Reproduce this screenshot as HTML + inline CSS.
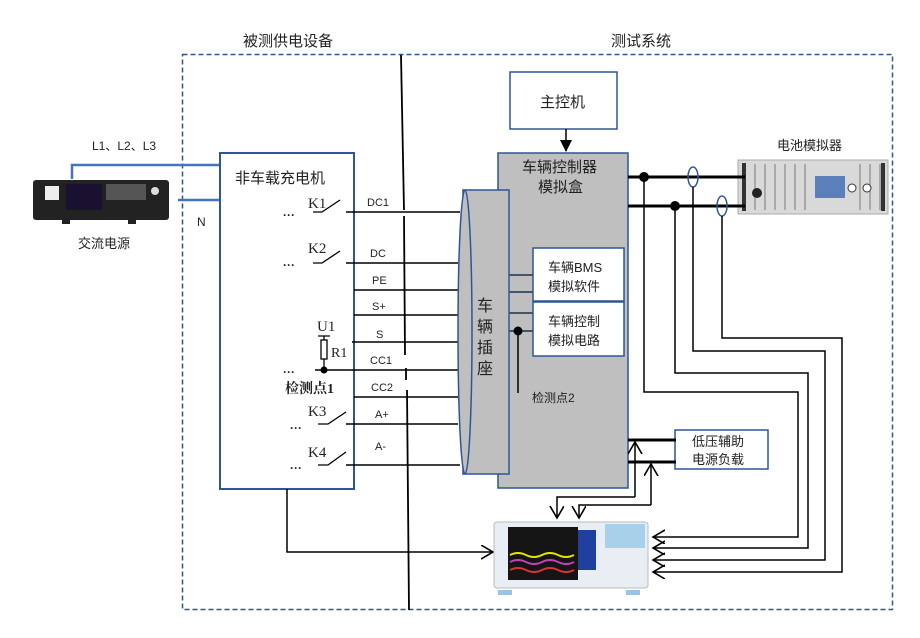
<!DOCTYPE html>
<html><head><meta charset="utf-8"><style>
html,body{margin:0;padding:0;background:#fff;}
svg{display:block;}
text{font-family:"Liberation Sans","Noto Sans CJK SC",sans-serif;fill:#222;}
.s text{font-family:"Liberation Serif","Noto Serif CJK SC",serif;}
</style></head><body>
<svg width="920" height="638" viewBox="0 0 920 638" xmlns="http://www.w3.org/2000/svg">
<defs>
<marker id="ah" markerWidth="14" markerHeight="16" refX="12" refY="7" orient="auto" markerUnits="userSpaceOnUse"><path d="M0,0 L12,7 L0,14" fill="none" stroke="#000" stroke-width="1.6"/></marker>
<marker id="af" markerWidth="12" markerHeight="12" refX="11" refY="6" orient="auto" markerUnits="userSpaceOnUse"><path d="M0,0 L12,6 L0,12Z" fill="#000"/></marker>
</defs>
<rect x="182.5" y="54.5" width="710" height="555" fill="none" stroke="#2f5597" stroke-width="1.5" stroke-dasharray="5,3"/>
<text x="243" y="46" font-size="15">被测供电设备</text>
<text x="611" y="46" font-size="15">测试系统</text>
<path d="M401,55 L404,210 M404,216 L405,355 M406,368 L406,380 M407,390 L409,610" stroke="#000" stroke-width="1.8" fill="none"/>

<rect x="33" y="180" width="136" height="40" rx="3" fill="#222"/>
<rect x="45" y="186" width="14" height="14" fill="#eee"/>
<rect x="66" y="184" width="36" height="26" fill="#1a1030"/>
<rect x="106" y="184" width="40" height="16" fill="#555"/>
<circle cx="155" cy="191" r="4" fill="#ddd"/>
<rect x="62" y="220" width="8" height="4" fill="#222"/><rect x="128" y="220" width="8" height="4" fill="#222"/>
<text x="78" y="248" font-size="13">交流电源</text>
<text x="92" y="150" font-size="12">L1、L2、L3</text>
<text x="197" y="226" font-size="12">N</text>
<path d="M72,179 V165 H224 M178,200 H224" stroke="#4472c4" stroke-width="2.5" fill="none"/>

<rect x="220" y="153" width="134" height="336" fill="#fff" stroke="#2f5597" stroke-width="2"/>
<text x="235" y="183" font-size="15">非车载充电机</text>

<g stroke="#000" stroke-width="1.5" fill="none">
<path d="M346,212 H460"/><path d="M346,263 H458"/><path d="M354,290 H458"/><path d="M354,315 H458"/>
<path d="M352,342 H458"/><path d="M315,370 H458"/><path d="M354,397 H458"/><path d="M346,424 H458"/><path d="M346,465 H460"/>
</g>
<g font-size="11">
<text x="367" y="206">DC1</text><text x="370" y="257">DC</text><text x="372" y="284">PE</text>
<text x="372" y="310">S+</text><text x="376" y="338">S</text><text x="370" y="364">CC1</text>
<text x="371" y="391">CC2</text><text x="375" y="418">A+</text><text x="375" y="450">A-</text>
</g>
<g stroke="#000" stroke-width="1.3" fill="none">
<path d="M313,212 H322 L340,200"/><path d="M313,263 H322 L340,251"/>
<path d="M318,424 H328 L346,412"/><path d="M318,465 H328 L346,452"/>
<path d="M318,336 H330 M324,336 V340 M324,359 V370"/>
<rect x="321" y="340" width="6" height="19"/>
</g>
<circle cx="324" cy="370" r="3.5" fill="#000"/>
<g class="s" font-size="15">
<text x="308" y="208">K1</text><text x="308" y="253">K2</text><text x="308" y="416">K3</text><text x="308" y="457">K4</text>
<text x="317" y="331">U1</text><text x="331" y="357" font-size="14">R1</text>
<text x="285" y="393" font-weight="bold" font-size="14">检测点1</text>
</g>
<g font-size="12" font-weight="bold"><text x="283" y="219">···</text><text x="283" y="269">···</text><text x="283" y="376">···</text><text x="290" y="432">···</text><text x="290" y="472">···</text></g>

<rect x="510" y="72" width="107" height="57" fill="#fff" stroke="#2f5597" stroke-width="1.5"/>
<text x="540" y="107" font-size="15">主控机</text>
<path d="M566,129 V151" stroke="#000" stroke-width="1.5" marker-end="url(#af)"/>

<rect x="498" y="153" width="130" height="335" fill="#bfbfbf" stroke="#2f5597" stroke-width="1.5"/>
<text x="522" y="172" font-size="15">车辆控制器</text>
<text x="538" y="192" font-size="15">模拟盒</text>
<rect x="463" y="190" width="46" height="284" fill="#bfbfbf" stroke="#2f5597" stroke-width="1.5"/>
<ellipse cx="465" cy="332" rx="7" ry="142" fill="#bfbfbf" stroke="#2f5597" stroke-width="1.5"/>
<text x="477" y="311" font-size="16">车</text><text x="477" y="332" font-size="16">辆</text>
<text x="477" y="353" font-size="16">插</text><text x="477" y="374" font-size="16">座</text>

<rect x="533" y="248" width="91" height="53" fill="#fff" stroke="#2f5597" stroke-width="1.5"/>
<text x="548" y="272" font-size="13">车辆BMS</text><text x="548" y="291" font-size="13">模拟软件</text>
<rect x="533" y="302" width="91" height="54" fill="#fff" stroke="#2f5597" stroke-width="1.5"/>
<text x="548" y="326" font-size="13">车辆控制</text><text x="548" y="345" font-size="13">模拟电路</text>
<g stroke="#44546a" stroke-width="2"><path d="M509,275 H533 M509,292 H533 M509,313 H533 M509,331 H533"/></g>
<circle cx="518" cy="331" r="4.5" fill="#000"/>
<path d="M518,331 V393" stroke="#000" stroke-width="1.5"/>
<text x="532" y="402" font-size="12">检测点2</text>

<rect x="738" y="160" width="150" height="54" fill="#d9d9d9" stroke="#aaa"/>
<g stroke="#999" stroke-width="1.5">
<path d="M755,164 V210 M765,164 V210 M775,164 V210 M785,164 V210 M795,164 V210 M805,164 V210 M860,164 V210 M870,164 V210 M880,164 V210"/></g>
<rect x="742" y="163" width="4" height="48" fill="#333"/><rect x="881" y="163" width="4" height="48" fill="#333"/>
<circle cx="757" cy="193" r="5" fill="#222"/>
<rect x="815" y="176" width="30" height="22" fill="#5b7fb8"/>
<circle cx="852" cy="188" r="4" fill="#fff" stroke="#333"/><circle cx="867" cy="188" r="4" fill="#fff" stroke="#333"/>
<text x="777" y="150" font-size="13">电池模拟器</text>
<g stroke="#000" stroke-width="3"><path d="M628,177 H745 M628,206 H745"/></g>
<circle cx="644" cy="177" r="5" fill="#000"/><circle cx="675" cy="206" r="5" fill="#000"/>
<ellipse cx="693" cy="177" rx="5" ry="10" fill="none" stroke="#2f5597" stroke-width="1.5"/>
<ellipse cx="722" cy="206" rx="5" ry="10" fill="none" stroke="#2f5597" stroke-width="1.5"/>
<g stroke="#000" stroke-width="1.5" fill="none">
<path d="M644,177 V392 H798 V537 H653" marker-end="url(#ah)"/>
<path d="M675,206 V373 H808 V548 H653" marker-end="url(#ah)"/>
<path d="M693,187 V351 H825 V560 H653" marker-end="url(#ah)"/>
<path d="M722,216 V338 H842 V572 H653" marker-end="url(#ah)"/>
</g>

<rect x="675" y="430" width="93" height="39" fill="#fff" stroke="#2f5597" stroke-width="1.5"/>
<text x="692" y="446" font-size="13">低压辅助</text><text x="692" y="464" font-size="13">电源负载</text>
<g stroke="#000" stroke-width="3"><path d="M628,440 H676 M628,462 H676"/></g>
<g stroke="#000" stroke-width="1.5" fill="none">
<path d="M635,497 V442" marker-end="url(#ah)"/>
<path d="M635,497 H557 V518" marker-end="url(#ah)"/>
<path d="M651,505 V464" marker-end="url(#ah)"/>
<path d="M651,505 H579 V518" marker-end="url(#ah)"/>
<path d="M287,489 V552 H493" marker-end="url(#ah)"/>
</g>

<rect x="494" y="522" width="154" height="66" rx="3" fill="#e8eef4" stroke="#bbb"/>
<rect x="508" y="527" width="70" height="53" fill="#151515"/>
<path d="M510,555 q8,-4 16,0 t16,0 t16,0 t16,0" stroke="#e6e600" stroke-width="2" fill="none"/>
<path d="M510,562 q8,-4 16,0 t16,0 t16,0 t16,0" stroke="#c040c0" stroke-width="2" fill="none"/>
<path d="M510,570 q8,-4 16,0 t16,0 t16,0 t16,0" stroke="#e03030" stroke-width="2" fill="none"/>
<rect x="578" y="530" width="18" height="40" fill="#2040a0"/>
<rect x="605" y="524" width="40" height="24" fill="#a9d0ea"/>
<rect x="498" y="590" width="14" height="5" fill="#9cc3e4"/><rect x="626" y="590" width="14" height="5" fill="#9cc3e4"/>
</svg>
</body></html>
